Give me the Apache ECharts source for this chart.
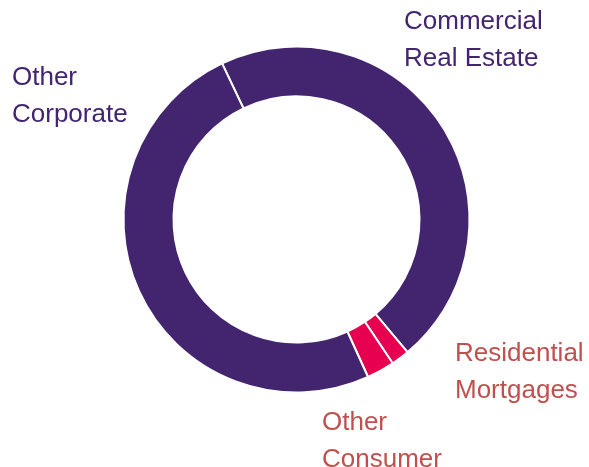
<!DOCTYPE html>
<html>
<head>
<meta charset="utf-8">
<script src="https://cdn.jsdelivr.net/npm/echarts@6/dist/echarts.min.js"></script>
<style>
  html, body { margin: 0; padding: 0; background: #fff; }
  #chart { width: 589px; height: 467px; }
</style>
</head>
<body>
<div id="chart"></div>
<script>
// slices, clockwise from the gap near 12 o'clock
const segments = ['Commercial\nReal Estate', 'Residential\nMortgages', 'Other\nConsumer', 'Other\nCorporate']
const shares = [46.0, 1.7, 2.6, 49.7]
const sliceColors = ['#42246f', '#e6004f', '#e6004f', '#42246f']
const labelColors = ['#42246f', '#c0504d', '#c0504d', '#42246f']
// label anchor (left, vertical middle) in px
const labelPos = [[404, 40], [455, 372], [322, 441], [12, 96]]

const chart = echarts.init(document.getElementById('chart'))

chart.setOption({
  animation: false,
  series: [
    {
      type: 'pie',
      center: [296.5, 219.5],
      radius: [123, 173],
      startAngle: 115.5,
      clockwise: true,
      avoidLabelOverlap: false,
      itemStyle: {
        borderColor: '#fff',
        borderWidth: 2
      },
      label: {
        show: true,
        position: 'outside',
        fontFamily: "'Liberation Sans', Arial, sans-serif",
        fontSize: 26,
        lineHeight: 37,
        formatter: '{b}'
      },
      labelLine: { show: false },
      labelLayout: function (params) {
        const p = labelPos[params.dataIndex]
        return { x: p[0], y: p[1], align: 'left', verticalAlign: 'middle' }
      },
      emphasis: { disabled: true },
      data: segments.map((name, i) => ({
        name: name,
        value: shares[i],
        itemStyle: { color: sliceColors[i] },
        label: { color: labelColors[i] }
      }))
    }
  ]
})
</script>
</body>
</html>
